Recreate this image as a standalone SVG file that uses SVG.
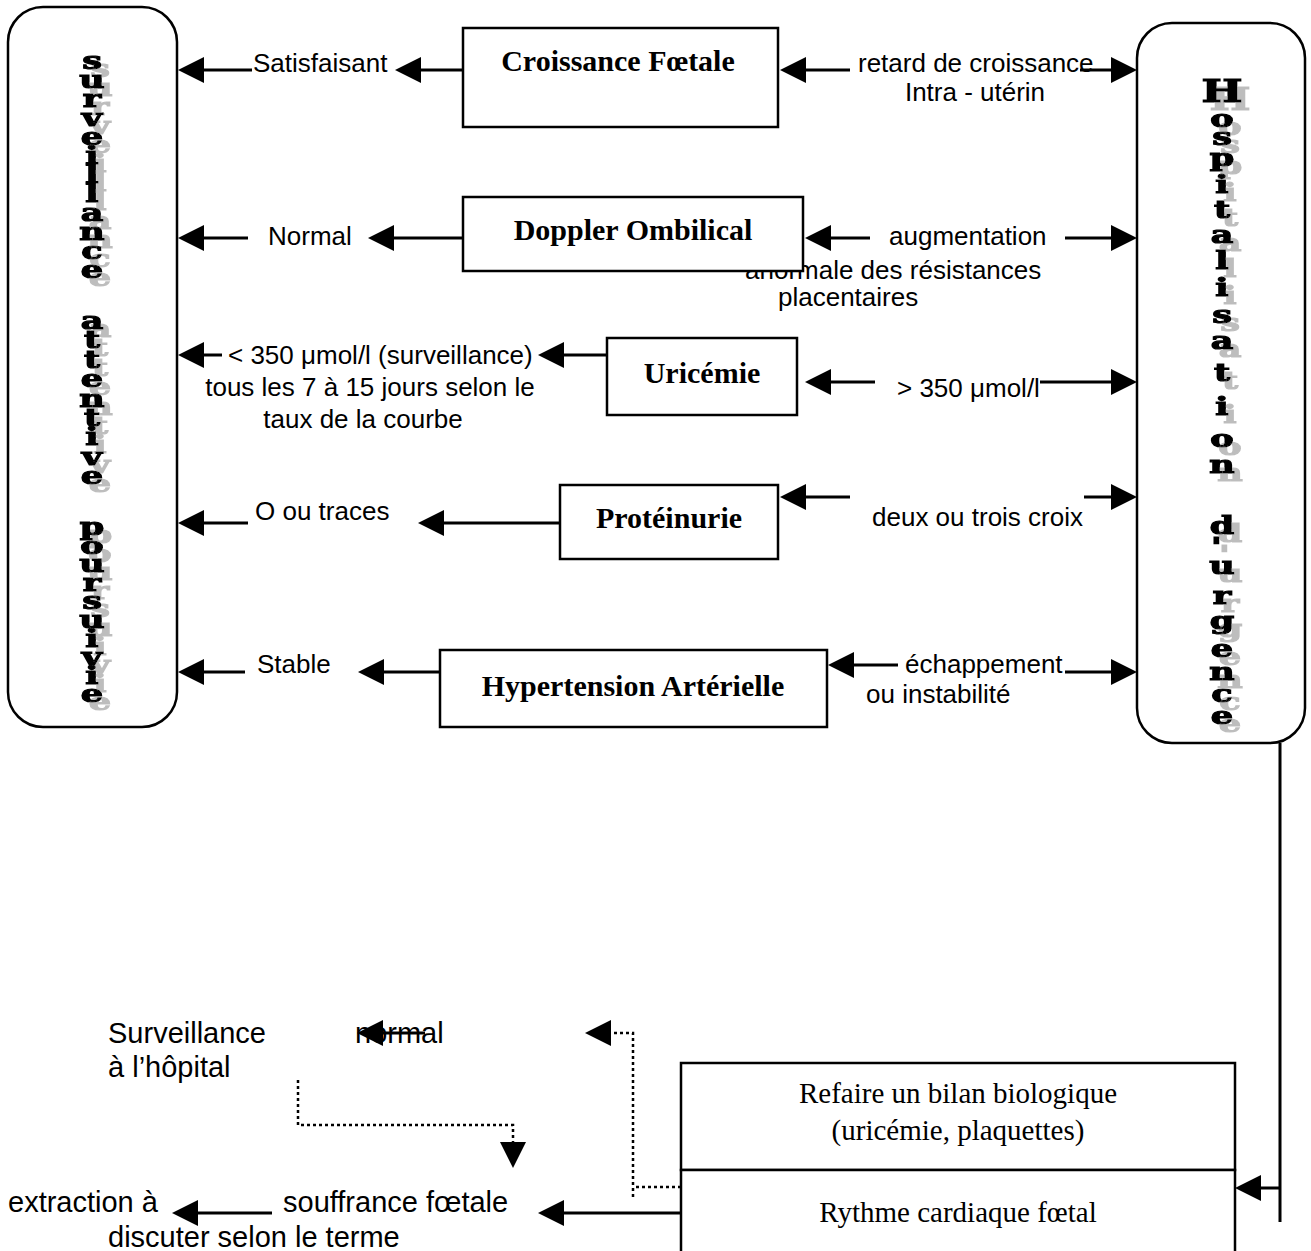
<svg xmlns="http://www.w3.org/2000/svg" width="1311" height="1251" viewBox="0 0 1311 1251">
<style>
.box{fill:#fff;stroke:#000;stroke-width:2.5}
.conn line,.conn path{stroke:#000;stroke-width:3;fill:none}
.conn .dot{stroke-width:2.5;stroke-dasharray:3 3}
.lbl{font-family:"Liberation Sans",Arial,sans-serif;font-size:26px;fill:#000}
.blbl{font-family:"Liberation Sans",Arial,sans-serif;font-size:29px;fill:#000}
.node{font-family:"Liberation Serif","Times New Roman",serif;font-weight:bold;font-size:30px;text-anchor:middle}
.node2{font-family:"Liberation Serif","Times New Roman",serif;font-size:29px;text-anchor:middle}
.vt{font-family:"DejaVu Serif",serif;font-weight:bold;font-size:25px;text-anchor:middle;fill:#000;stroke:#000;stroke-width:1.2;filter:url(#shadow)}
.mid{text-anchor:middle}
</style>
<defs>
<marker id="ah" markerUnits="userSpaceOnUse" markerWidth="26" markerHeight="26" refX="0" refY="13" orient="auto" overflow="visible">
<path d="M0,0 L26,13 L0,26 z" fill="#000"/>
</marker>
<filter id="shadow" x="-50%" y="-10%" width="200%" height="120%">
<feOffset in="SourceAlpha" dx="6" dy="8" result="off"/>
<feFlood flood-color="#bdbdbd"/>
<feComposite in2="off" operator="in" result="sh"/>
<feMerge><feMergeNode in="sh"/><feMergeNode in="SourceGraphic"/></feMerge>
</filter>
</defs>
<rect x="0" y="0" width="1311" height="1251" fill="#fff"/>

<!-- edge labels -->
<g id="edge-labels">
<text class="lbl" x="253" y="72">Satisfaisant</text>
<text class="lbl" x="858" y="72">retard de croissance</text>
<text class="lbl mid" x="975" y="101">Intra - utérin</text>
<text class="lbl" x="268" y="245">Normal</text>
<text class="lbl" x="889" y="245">augmentation</text>
<text class="lbl" x="745" y="279">anormale des résistances</text>
<text class="lbl" x="778" y="306">placentaires</text>
<text class="lbl" x="228" y="364">&lt; 350 μmol/l (surveillance)</text>
<text class="lbl mid" x="370" y="396">tous les 7 à 15 jours selon le</text>
<text class="lbl mid" x="363" y="428">taux de la courbe</text>
<text class="lbl" x="897" y="397">&gt; 350 μmol/l</text>
<text class="lbl" x="255" y="520">O ou traces</text>
<text class="lbl" x="872" y="526">deux ou trois croix</text>
<text class="lbl" x="257" y="673">Stable</text>
<text class="lbl" x="905" y="673">échappement</text>
<text class="lbl" x="866" y="703">ou instabilité</text>
<text class="blbl" x="108" y="1043">Surveillance</text>
<text class="blbl" x="108" y="1077">à l’hôpital</text>
<text class="blbl" x="355" y="1043">normal</text>
<text class="blbl" x="283" y="1212">souffrance fœtale</text>
<text class="blbl" x="8" y="1212">extraction à</text>
<text class="blbl" x="108" y="1247">discuter selon le terme</text>
</g>

<!-- connectors -->
<g id="connectors" class="conn">
<line x1="463" y1="70" x2="421" y2="70" marker-end="url(#ah)"/>
<line x1="252" y1="70" x2="204" y2="70" marker-end="url(#ah)"/>
<line x1="850" y1="70" x2="806" y2="70" marker-end="url(#ah)"/>
<line x1="1080" y1="70" x2="1111" y2="70" marker-end="url(#ah)"/>

<line x1="463" y1="238" x2="394" y2="238" marker-end="url(#ah)"/>
<line x1="248" y1="238" x2="204" y2="238" marker-end="url(#ah)"/>
<line x1="870" y1="238" x2="831" y2="238" marker-end="url(#ah)"/>
<line x1="1065" y1="238" x2="1111" y2="238" marker-end="url(#ah)"/>

<line x1="607" y1="355" x2="564" y2="355" marker-end="url(#ah)"/>
<line x1="222" y1="355" x2="204" y2="355" marker-end="url(#ah)"/>
<line x1="875" y1="382" x2="831" y2="382" marker-end="url(#ah)"/>
<line x1="1040" y1="382" x2="1111" y2="382" marker-end="url(#ah)"/>

<line x1="560" y1="523" x2="444" y2="523" marker-end="url(#ah)"/>
<line x1="248" y1="523" x2="204" y2="523" marker-end="url(#ah)"/>
<line x1="850" y1="497" x2="806" y2="497" marker-end="url(#ah)"/>
<line x1="1084" y1="497" x2="1111" y2="497" marker-end="url(#ah)"/>

<line x1="440" y1="672" x2="384" y2="672" marker-end="url(#ah)"/>
<line x1="245" y1="672" x2="204" y2="672" marker-end="url(#ah)"/>
<line x1="898" y1="665" x2="854" y2="665" marker-end="url(#ah)"/>
<line x1="1065" y1="672" x2="1111" y2="672" marker-end="url(#ah)"/>

<line x1="1280" y1="743" x2="1280" y2="1222"/>
<line x1="1280" y1="1188" x2="1261" y2="1188" marker-end="url(#ah)"/>
<line x1="681" y1="1213" x2="564" y2="1213" marker-end="url(#ah)"/>
<line x1="272" y1="1213" x2="198" y2="1213" marker-end="url(#ah)"/>
<line x1="425" y1="1033" x2="383" y2="1033" marker-end="url(#ah)"/>
<path class="dot" d="M681,1187 H633"/>
<path class="dot" d="M633,1197 V1033 H611" marker-end="url(#ah)"/>
<path class="dot" d="M298,1080 V1125 H513 V1142" marker-end="url(#ah)"/>
</g>

<!-- nodes -->
<g id="node-surveillance">
<rect class="box" x="8" y="7" width="169" height="720" rx="35"/>
<g transform="translate(92 0) scale(1.4 1)">
<text class="vt"><tspan x="0" y="69">s</tspan><tspan x="0" y="88">u</tspan><tspan x="0" y="107">r</tspan><tspan x="0" y="126">v</tspan><tspan x="0" y="145">e</tspan><tspan x="0" y="164">i</tspan><tspan x="0" y="183">l</tspan><tspan x="0" y="202">l</tspan><tspan x="0" y="221">a</tspan><tspan x="0" y="240">n</tspan><tspan x="0" y="259">c</tspan><tspan x="0" y="278">e</tspan></text>
<text class="vt"><tspan x="0" y="329">a</tspan><tspan x="0" y="348">t</tspan><tspan x="0" y="368">t</tspan><tspan x="0" y="387">e</tspan><tspan x="0" y="407">n</tspan><tspan x="0" y="426">t</tspan><tspan x="0" y="445">i</tspan><tspan x="0" y="465">v</tspan><tspan x="0" y="484">e</tspan></text>
<text class="vt"><tspan x="0" y="535">p</tspan><tspan x="0" y="554">o</tspan><tspan x="0" y="572">u</tspan><tspan x="0" y="591">r</tspan><tspan x="0" y="609">s</tspan><tspan x="0" y="628">u</tspan><tspan x="0" y="647">i</tspan><tspan x="0" y="665">v</tspan><tspan x="0" y="684">i</tspan><tspan x="0" y="702">e</tspan></text>
</g>
</g>

<g id="node-hospitalisation">
<rect class="box" x="1137" y="23" width="168" height="720" rx="35"/>
<g transform="translate(1222 0) scale(1.4 1)">
<text class="vt"><tspan x="0" y="102" style="font-size:31px">H</tspan><tspan x="0" y="127">o</tspan><tspan x="0" y="145">s</tspan><tspan x="0" y="166">p</tspan><tspan x="0" y="193">i</tspan><tspan x="0" y="218">t</tspan><tspan x="0" y="243">a</tspan><tspan x="0" y="269">l</tspan><tspan x="0" y="296">i</tspan><tspan x="0" y="323">s</tspan><tspan x="0" y="349">a</tspan><tspan x="0" y="381">t</tspan><tspan x="0" y="415">i</tspan><tspan x="0" y="447">o</tspan><tspan x="0" y="473">n</tspan></text>
<text class="vt"><tspan x="0" y="534">d</tspan><tspan x="-4" y="555">'</tspan><tspan x="0" y="574">u</tspan><tspan x="0" y="604">r</tspan><tspan x="0" y="629">g</tspan><tspan x="0" y="657">e</tspan><tspan x="0" y="680">n</tspan><tspan x="0" y="702">c</tspan><tspan x="0" y="724">e</tspan></text>
</g>
</g>

<g id="node-croissance">
<rect class="box" x="463" y="28" width="315" height="99"/>
<text class="node" x="618" y="71">Croissance Fœtale</text>
</g>
<g id="node-doppler">
<rect class="box" x="463" y="197" width="340" height="74"/>
<text class="node" x="633" y="240">Doppler Ombilical</text>
</g>
<g id="node-uricemie">
<rect class="box" x="607" y="338" width="190" height="77"/>
<text class="node" x="702" y="383">Uricémie</text>
</g>
<g id="node-proteinurie">
<rect class="box" x="560" y="485" width="218" height="74"/>
<text class="node" x="669" y="528">Protéinurie</text>
</g>
<g id="node-hta">
<rect class="box" x="440" y="650" width="387" height="77"/>
<text class="node" x="633" y="696">Hypertension Artérielle</text>
</g>
<g id="node-bilan">
<rect class="box" x="681" y="1063" width="554" height="107"/>
<text class="node2" x="958" y="1103">Refaire un bilan biologique</text>
<text class="node2" x="958" y="1140">(uricémie, plaquettes)</text>
</g>
<g id="node-rcf">
<rect class="box" x="681" y="1170" width="554" height="100"/>
<text class="node2" x="958" y="1222">Rythme cardiaque fœtal</text>
</g>
</svg>
